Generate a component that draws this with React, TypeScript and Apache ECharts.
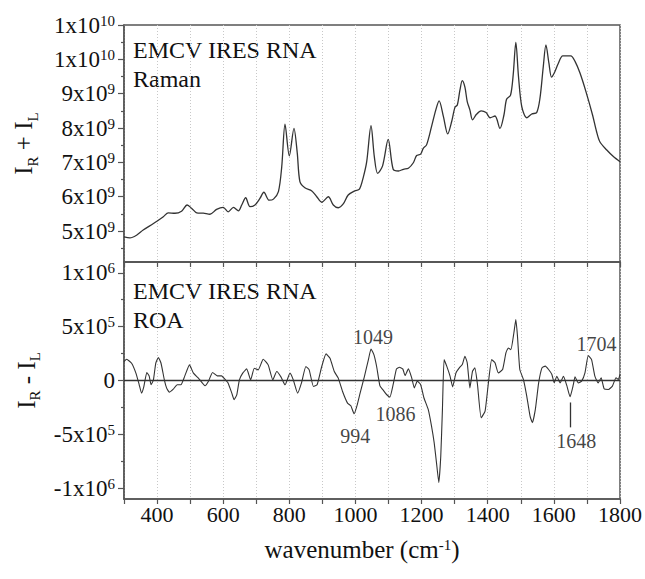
import React, { useEffect, useRef } from "react";
import * as echarts from "echarts";

// Raman (I_R + I_L): [wavenumber, intensity]
const ramanSpectrum: [number, number][] = [
  [300, 4.83e9], [318, 4.80e9], [338, 4.88e9], [358, 5.03e9], [389, 5.22e9], [419, 5.42e9], [434, 5.53e9], [454, 5.52e9], [474, 5.58e9], [491, 5.76e9],
  [505, 5.66e9], [520, 5.53e9], [540, 5.52e9], [560, 5.49e9], [580, 5.63e9], [600, 5.69e9], [615, 5.56e9], [631, 5.69e9], [646, 5.59e9], [656, 5.76e9],
  [668, 5.97e9], [681, 5.71e9], [696, 5.76e9], [711, 5.95e9], [723, 6.13e9], [739, 5.90e9], [752, 5.93e9], [767, 6.15e9], [777, 6.87e9], [787, 8.11e9],
  [800, 7.19e9], [814, 7.99e9], [824, 7.27e9], [832, 6.44e9], [847, 6.26e9], [868, 6.17e9], [883, 6.00e9], [898, 5.84e9], [918, 6.00e9], [933, 5.76e9],
  [948, 5.68e9], [963, 5.79e9], [978, 6.05e9], [998, 6.17e9], [1012, 6.22e9], [1024, 6.58e9], [1034, 7.02e9], [1047, 8.07e9], [1057, 7.17e9], [1067, 6.68e9],
  [1082, 6.90e9], [1099, 7.67e9], [1114, 6.80e9], [1130, 6.75e9], [1145, 6.80e9], [1160, 6.83e9], [1175, 6.99e9], [1185, 7.20e9], [1197, 7.24e9], [1205, 7.41e9],
  [1215, 7.51e9], [1230, 8.04e9], [1243, 8.53e9], [1253, 8.79e9], [1266, 8.33e9], [1279, 7.83e9], [1291, 8.19e9], [1301, 8.61e9], [1308, 8.67e9], [1316, 9.11e9],
  [1323, 9.38e9], [1331, 9.19e9], [1338, 8.77e9], [1346, 8.53e9], [1354, 8.24e9], [1366, 8.40e9], [1380, 8.50e9], [1395, 8.45e9], [1407, 8.30e9], [1422, 8.35e9],
  [1437, 7.99e9], [1449, 8.38e9], [1457, 8.84e9], [1469, 8.96e9], [1477, 9.55e9], [1485, 10.49e9], [1493, 9.50e9], [1503, 8.62e9], [1518, 8.30e9], [1533, 8.41e9],
  [1548, 8.45e9], [1558, 8.87e9], [1568, 9.79e9], [1576, 10.42e9], [1585, 9.89e9], [1593, 9.48e9], [1603, 9.64e9], [1613, 9.87e9], [1627, 10.10e9], [1651, 10.10e9],
  [1664, 9.94e9], [1679, 9.60e9], [1697, 9.06e9], [1717, 8.38e9], [1729, 7.90e9], [1739, 7.60e9], [1760, 7.36e9], [1780, 7.17e9], [1800, 7.02e9],
];

// ROA (I_R - I_L): [wavenumber, intensity]
const roaSpectrum: [number, number][] = [
  [300, 1.76e5], [308, 1.97e5], [323, 1.60e5], [336, 0.68e5], [346, -0.40e5], [353, -1.17e5], [360, -0.56e5], [369, 0.74e5], [376, 0.43e5], [382, -0.40e5],
  [389, 0.06e5], [396, 1.60e5], [404, 2.13e5], [412, 1.60e5], [422, 0.06e5], [429, -0.71e5], [437, -1.08e5], [449, -0.80e5], [461, -0.40e5], [472, -0.40e5],
  [484, 0.43e5], [498, 1.45e5], [510, 0.68e5], [525, 0.22e5], [545, -0.49e5], [555, -0.09e5], [568, 0.74e5], [582, 0.43e5], [595, 0.43e5], [605, 0.12e5],
  [615, -0.25e5], [626, -1.17e5], [633, -1.79e5], [641, -1.33e5], [649, 0.06e5], [659, 0.68e5], [671, 1.08e5], [683, 0.06e5], [694, 1.14e5], [706, 0.99e5],
  [721, 1.97e5], [736, 1.45e5], [750, 0.06e5], [762, 0.83e5], [775, 0.31e5], [787, -0.40e5], [802, 0.68e5], [812, 0.06e5], [825, -1.17e5], [837, -0.19e5],
  [850, 1.30e5], [860, 0.99e5], [873, -0.56e5], [884, -0.40e5], [898, 1.30e5], [911, 2.47e5], [923, 2.07e5], [936, 0.83e5], [948, 0.22e5], [961, -1.02e5],
  [976, -2.10e5], [986, -2.35e5], [996, -3.09e5], [1004, -2.41e5], [1014, -1.17e5], [1027, 0.37e5], [1039, 1.91e5], [1047, 2.93e5], [1056, 2.38e5], [1064, 1.30e5],
  [1074, -0.50e5], [1084, -0.90e5], [1094, -1.30e5], [1104, -1.54e5], [1114, -0.37e5], [1124, 1.08e5], [1133, 1.23e5], [1143, 1.08e5], [1150, 0.46e5], [1160, 1.08e5],
  [1170, 0.25e5], [1178, -0.68e5], [1187, -0.06e5], [1197, -0.37e5], [1207, -1.60e5], [1220, -2.68e5], [1230, -4.23e5], [1238, -5.77e5], [1245, -7.62e5], [1252, -9.47e5],
  [1258, -7.00e5], [1263, -2.68e5], [1268, 1.94e5], [1276, 1.33e5], [1286, 0.40e5], [1294, -0.59e5], [1304, 0.71e5], [1314, 1.17e5], [1323, 1.48e5], [1331, 2.25e5],
  [1338, 1.64e5], [1346, -0.68e5], [1354, 0.86e5], [1361, 1.17e5], [1369, -0.37e5], [1380, -3.46e5], [1392, -2.84e5], [1402, -0.22e5], [1412, 1.94e5], [1422, 1.64e5],
  [1432, 0.71e5], [1445, 1.02e5], [1455, 2.56e5], [1462, 3.02e5], [1470, 2.87e5], [1479, 4.41e5], [1485, 5.65e5], [1490, 4.10e5], [1497, 1.02e5], [1508, 0.09e5],
  [1518, -1.45e5], [1528, -3.30e5], [1535, -3.92e5], [1544, -2.68e5], [1554, -0.22e5], [1564, 1.17e5], [1574, 1.33e5], [1584, 1.02e5], [1594, 0.56e5], [1601, -0.22e5],
  [1609, 0.40e5], [1619, -0.22e5], [1629, 0.40e5], [1639, -0.46e5], [1649, -1.51e5], [1659, -0.37e5], [1664, 0.34e5], [1674, -0.22e5], [1684, -0.06e5], [1694, 0.71e5],
  [1704, 2.31e5], [1714, 1.94e5], [1724, 0.40e5], [1734, -0.22e5], [1743, 0.25e5], [1752, -0.77e5], [1765, -0.83e5], [1777, -0.52e5], [1788, 0.25e5], [1795, 0.09e5],
  [1800, 0.56e5],
];

// Axis ticks
const xLabelValues = [400, 600, 800, 1000, 1200, 1400, 1600, 1800];
const ramanTickValues = [5e9, 6e9, 7e9, 8e9, 9e9, 1e10, 1.1e10];
const ramanTickLabels = ["5x10{sup|9}", "6x10{sup|9}", "7x10{sup|9}", "8x10{sup|9}", "9x10{sup|9}", "1x10{sup|10}", "1x10{sup|10}"];
const ramanMinorTicks = [4.5e9, 5.5e9, 6.5e9, 7.5e9, 8.5e9, 9.5e9, 1.05e10];
const roaTickValues = [-1e6, -5e5, 0, 5e5, 1e6];
const roaTickLabels = ["-1x10{sup|6}", "-5x10{sup|5}", "0", "5x10{sup|5}", "1x10{sup|6}"];
const roaMinorTicks = [-7.5e5, -2.5e5, 2.5e5, 7.5e5];

// Peak annotations (label anchor in data units)
const annotationText = ["1049", "994", "1086", "1648", "1704"];
const annotationX = [1053, 999, 1121, 1668, 1729];
const annotationY = [4.07e5, -5.19e5, -3.15e5, -5.65e5, 3.38e5];
const pointerLine: [number, number][] = [[1651, -2.04e5], [1651, -4.35e5]];

const FONT = "Liberation Serif";
const AXIS_COLOR = "#555";
const TEXT_COLOR = "#111";

const supRich = {
  b: { fontSize: 23, fontFamily: FONT, color: TEXT_COLOR, lineHeight: 24 },
  sup: { fontSize: 15, fontFamily: FONT, color: TEXT_COLOR, lineHeight: 14, verticalAlign: "top" },
};

function labelFor(values: number[], labels: string[]) {
  return (v: number) => {
    for (let i = 0; i < values.length; i++) {
      if (Math.abs(values[i] - v) < Math.abs(values[values.length - 1]) * 1e-6) {
        const s = labels[i];
        const k = s.indexOf("{");
        return k < 0 ? `{b|${s}}` : `{b|${s.slice(0, k)}}${s.slice(k)}`;
      }
    }
    return "";
  };
}

export default function App() {
  const ref = useRef<HTMLDivElement>(null);
  useEffect(() => {
    if (!ref.current) return;
    const chart = echarts.init(ref.current, null, { renderer: "svg" });
    const gridW = 496;
    const gridH = 237;
    const nameRich = {
      n: { fontSize: 25, fontFamily: FONT, color: TEXT_COLOR, lineHeight: 33 },
      s: { fontSize: 15, fontFamily: FONT, color: TEXT_COLOR, lineHeight: 15, verticalAlign: "bottom" },
    };
    const xCommon = {
      type: "value",
      min: 300,
      max: 1800,
      interval: 100,
      axisLine: { show: true, onZero: false, lineStyle: { color: AXIS_COLOR, width: 1.5 } },
      axisTick: { show: true, inside: false, length: 5, lineStyle: { color: AXIS_COLOR, width: 1.2 } },
      splitLine: { show: true, lineStyle: { color: "#c8c8c8", type: [1, 2], width: 1 } },
    };
    const textStyle = (size: number) => ({ fontSize: size, fontFamily: FONT, fill: TEXT_COLOR });
    const option: any = {
      animation: false,
      backgroundColor: "#fff",
      textStyle: { fontFamily: FONT },
      grid: [
        { left: 124, top: 25, width: gridW, height: gridH, show: true, borderColor: AXIS_COLOR, borderWidth: 1.5, backgroundColor: "transparent" },
        { left: 124, top: 262, width: gridW, height: gridH, show: true, borderColor: AXIS_COLOR, borderWidth: 1.5, backgroundColor: "transparent" },
      ],
      xAxis: [
        { ...xCommon, gridIndex: 0, position: "bottom", axisLabel: { show: false } },
        {
          ...xCommon,
          gridIndex: 1,
          position: "bottom",
          axisLabel: {
            show: true,
            margin: 4,
            fontSize: 22,
            fontFamily: FONT,
            color: TEXT_COLOR,
            customValues: xLabelValues,
            formatter: (v: number) => String(v),
          },
          name: "wavenumber (cm{sup|-1})",
          nameLocation: "middle",
          nameGap: 38,
          nameTextStyle: {
            fontSize: 25,
            fontFamily: FONT,
            color: TEXT_COLOR,
            padding: [0, 20, 0, 0],
            rich: {
              sup: { fontSize: 15, fontFamily: FONT, color: TEXT_COLOR, lineHeight: 15, verticalAlign: "top" },
            },
          },
        },
      ],
      yAxis: [
        {
          type: "value",
          gridIndex: 0,
          position: "left",
          min: 4.1e9,
          max: 1.1e10,
          axisLine: { show: true, onZero: false, lineStyle: { color: AXIS_COLOR, width: 1.5 } },
          axisTick: { show: true, inside: false, length: 6, customValues: ramanTickValues, lineStyle: { color: AXIS_COLOR, width: 1.2 } },
          axisLabel: {
            show: true,
            margin: 9,
            customValues: ramanTickValues,
            formatter: labelFor(ramanTickValues, ramanTickLabels),
            rich: supRich,
          },
          splitLine: { show: false },
          name: "{n|I}{s|R}{n| + I}{s|L}",
          nameLocation: "middle",
          nameRotate: 90,
          nameGap: 84,
          nameTextStyle: { rich: nameRich },
        },
        {
          type: "value",
          gridIndex: 0,
          position: "left",
          offset: 0,
          min: 4.1e9,
          max: 1.1e10,
          axisLine: { show: false },
          axisTick: { show: true, inside: false, length: 3, customValues: ramanMinorTicks, lineStyle: { color: AXIS_COLOR, width: 1.2 } },
          axisLabel: { show: false },
          splitLine: { show: false },
        },
        {
          type: "value",
          gridIndex: 1,
          position: "left",
          min: -1.1e6,
          max: 1.1e6,
          axisLine: { show: true, onZero: false, lineStyle: { color: AXIS_COLOR, width: 1.5 } },
          axisTick: { show: true, inside: false, length: 6, customValues: roaTickValues, lineStyle: { color: AXIS_COLOR, width: 1.2 } },
          axisLabel: {
            show: true,
            margin: 9,
            customValues: roaTickValues,
            formatter: labelFor(roaTickValues, roaTickLabels),
            rich: supRich,
          },
          splitLine: { show: false },
          name: "{n|I}{s|R}{n| - I}{s|L}",
          nameLocation: "middle",
          nameRotate: 90,
          nameGap: 80,
          nameTextStyle: { rich: nameRich },
        },
        {
          type: "value",
          gridIndex: 1,
          position: "left",
          offset: 0,
          min: -1.1e6,
          max: 1.1e6,
          axisLine: { show: false },
          axisTick: { show: true, inside: false, length: 3, customValues: roaMinorTicks, lineStyle: { color: AXIS_COLOR, width: 1.2 } },
          axisLabel: { show: false },
          splitLine: { show: false },
        },
      ],
      series: [
        {
          type: "line",
          xAxisIndex: 0,
          yAxisIndex: 0,
          data: ramanSpectrum,
          showSymbol: false,
          smooth: 0.3,
          lineStyle: { color: "#333", width: 1.3 },
        },
        {
          type: "line",
          xAxisIndex: 1,
          yAxisIndex: 2,
          data: roaSpectrum,
          showSymbol: false,
          smooth: 0.15,
          lineStyle: { color: "#333", width: 1.1 },
          markLine: {
            silent: true,
            symbol: ["none", "none"],
            label: { show: false },
            lineStyle: { color: "#333", width: 1.3, type: "solid" },
            data: [
              { yAxis: 0 },
              [{ coord: pointerLine[0] }, { coord: pointerLine[1] }],
            ],
          },
        },
        {
          type: "scatter",
          xAxisIndex: 1,
          yAxisIndex: 2,
          symbolSize: 1,
          itemStyle: { color: "rgba(0,0,0,0)" },
          data: annotationText.map((t, i) => [annotationX[i], annotationY[i], t]),
          label: {
            show: true,
            position: "inside",
            formatter: (p: any) => p.data[2],
            fontSize: 20,
            fontFamily: FONT,
            color: TEXT_COLOR,
          },
        },
      ],
      graphic: [
        { type: "text", left: 133, top: 38, style: { text: "EMCV IRES RNA", ...textStyle(24) } },
        { type: "text", left: 133, top: 67, style: { text: "Raman", ...textStyle(24) } },
        { type: "text", left: 133, top: 279, style: { text: "EMCV IRES RNA", ...textStyle(24) } },
        { type: "text", left: 133, top: 308, style: { text: "ROA", ...textStyle(24) } },
      ],
    };
    chart.setOption(option);
    return () => chart.dispose();
  }, []);
  return <div ref={ref} style={{ position: "fixed", left: 0, top: 0, width: 645, height: 579, background: "#fff" }} />;
}
